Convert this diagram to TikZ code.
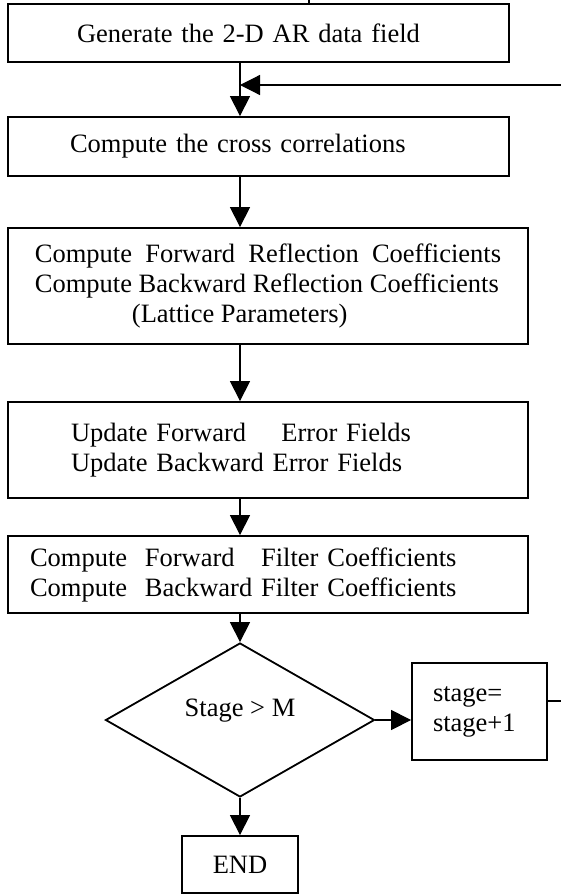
\documentclass[tikz,border=0pt]{standalone}
\usepackage{fontspec}
\setmainfont{Liberation Serif}
\usetikzlibrary{arrows.meta,shapes.geometric}

\begin{document}
\begin{tikzpicture}[x=0.5pt,y=-0.5pt,
  every node/.style={font=\fontsize{13.25}{15}\selectfont},
  procbox/.style={draw,line width=0.9pt,inner sep=0pt,align=left},
  arr/.style={line width=0.6pt,-{Triangle[length=10pt,width=10pt]}}]
\useasboundingbox (0,0) rectangle (561,894);
\node [procbox,minimum width=250.5pt,minimum height=29pt,text width=181.5pt] (gen) at (258.5,33) {Generate the 2-D AR data field};
\node [procbox,minimum width=250.5pt,minimum height=29.5pt,text width=188.5pt] (corr) at (258.5,146.5) {Compute the cross correlations};
\node [procbox,minimum width=260pt,minimum height=58pt] (refl) at (268,286) {Compute~ Forward~ Reflection~ Coefficients\\Compute Backward Reflection Coefficients\\\hspace*{48.5pt}(Lattice Parameters)};
\node [procbox,minimum width=260pt,minimum height=48pt,text width=197pt] (upd) at (268,450) {Update Forward~~~ Error Fields\\Update Backward Error Fields};
\node [procbox,minimum width=260pt,minimum height=38.5pt,text width=238pt] (filt) at (268,574.5) {Compute~ Forward~~ Filter Coefficients\\Compute~ Backward Filter Coefficients};
\node [draw,diamond,line width=0.9pt,inner sep=0pt,minimum width=134.5pt,minimum height=77pt,
  label={[yshift=4.5pt]center:Stage > M}] (test) at (240,720) {};
\node [procbox,minimum width=67.5pt,minimum height=48.5pt,text width=46.5pt] (incr) at (479.5,711.5) {stage=\\stage+1};
\node [procbox,minimum width=58pt,minimum height=28.5pt,align=center] (stop) at (240,864.5) {END};

\coordinate (feed) at (309,0);
\coordinate (spine) at (240,0);
\coordinate (merge) at (240,85);
\coordinate (rail) at (566,0);

\draw [line width=0.6pt] (feed) -- (feed |- gen.north);
\draw [arr] (spine |- gen.south) -- (spine |- corr.north);
\draw [arr] (spine |- corr.south) -- (spine |- refl.north);
\draw [arr] (spine |- refl.south) -- (spine |- upd.north);
\draw [arr] (spine |- upd.south) -- (spine |- filt.north);
\draw [arr] (spine |- filt.south) -- (test.north);
\draw [arr] (test.south) -- (stop.north);
\draw [arr] (test.east) -- (test.east -| incr.west);
\draw [arr] ([yshift=5.25pt]incr.east) -| (rail |- merge) -- (merge);
\end{tikzpicture}
\end{document}
